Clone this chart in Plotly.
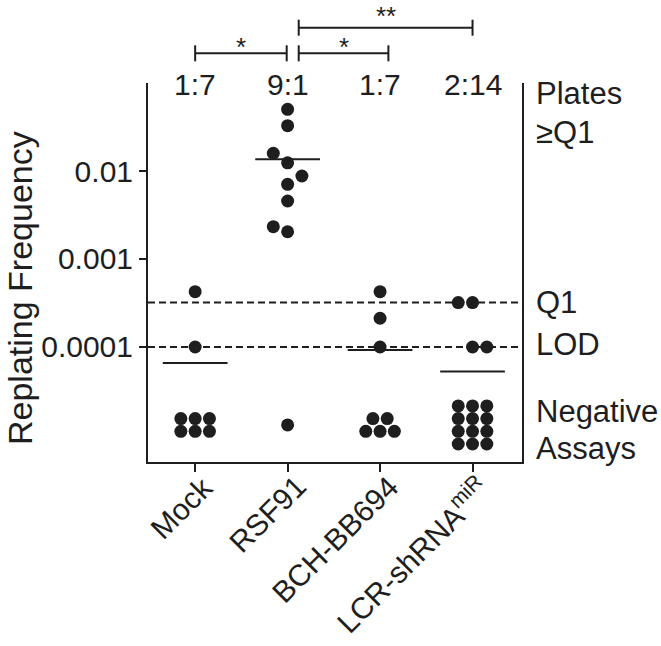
import math
import plotly.graph_objects as go

# ---------------- data ----------------
categories = ["Mock", "RSF91", "BCH-BB694", "LCR-shRNA"]
tick_labels = ["Mock", "RSF91", "BCH-BB694", "LCR-shRNA<sup>miR</sup>"]
ratio_labels = ["1:7", "9:1", "1:7", "2:14"]

mock_values = [4.25e-4, 1.0e-4]
rsf91_values = [0.0502, 0.0327, 0.0124, 0.00706, 0.00456, 0.00204, 0.0159, 0.00877, 0.00233]
bch_values = [4.25e-4, 2.12e-4, 1.0e-4]
lcr_values = [3.2e-4, 3.2e-4, 1.0e-4, 1.0e-4]
negative_counts = [6, 1, 5, 12]

q1_level = 3.2e-4
lod_level = 1.0e-4
negative_level = 1.3e-5  # plotting level for negative assays

comparisons = [(0, 1, "*", 0), (1, 2, "*", 0), (1, 3, "**", 1)]

# ---------------- layout constants ----------------
W, H = 661, 646
ML, MR, MT, MB = 148, 139, 83, 184
PW, PH = W - ML - MR, H - MT - MB
XR = [-0.51, 3.535]
YR = [-5.307, -1.0]
PX_X = PW / (XR[1] - XR[0])
PX_Y = PH / (YR[1] - YR[0])
DOT = 13
SLOT = 14.3 / PX_X
ROW = 12.7 / PX_Y
INK = "#1e1e1e"
FONT = "Liberation Sans, Arial, sans-serif"

groups = [mock_values, rsf91_values, bch_values, lcr_values]


def swarm(values):
    """place dots in slots beside the column centre, alternating sides on collision"""
    placed = []
    flips = 0
    offs = []
    for v in values:
        ly = math.log10(v)
        side = -1 if flips % 2 == 0 else 1
        cand = [0, side, -side, 2 * side, -2 * side]
        for c in cand:
            ok = True
            for (pc, pyv) in placed:
                d = math.hypot((c - pc) * SLOT * PX_X, (ly - pyv) * PX_Y)
                if d < DOT - 0.2:
                    ok = False
                    break
            if ok:
                if c != 0:
                    flips += 1
                placed.append((c, ly))
                offs.append(c * SLOT)
                break
    return offs


def py(pix):
    """pixel row (from top of picture) -> paper y"""
    return (MT + PH - pix) / PH


fig = go.Figure()

for i, vals in enumerate(groups):
    offs = swarm(vals)
    xs = [i + o for o in offs]
    fig.add_trace(go.Scatter(x=xs, y=vals, mode="markers",
                             marker=dict(size=DOT, color=INK, line=dict(width=0)),
                             showlegend=False, hoverinfo="y"))
    # negative assays: rows of 3, filled bottom-up, centred on negative level
    n = negative_counts[i]
    nrows = math.ceil(n / 3)
    nx, ny = [], []
    base = math.log10(negative_level) - (nrows - 1) * ROW / 2
    k = 0
    for r in range(nrows):
        cnt = min(3, n - k)
        for c in range(cnt):
            nx.append(i + (c - (cnt - 1) / 2) * SLOT)
            ny.append(10 ** (base + r * ROW))
        k += cnt
    fig.add_trace(go.Scatter(x=nx, y=ny, mode="markers",
                             marker=dict(size=DOT, color=INK, line=dict(width=0)),
                             showlegend=False, hoverinfo="skip"))
    # mean line (negatives counted as zero)
    mean = sum(vals) / (len(vals) + n)
    fig.add_trace(go.Scatter(x=[i - 0.35, i + 0.35], y=[mean, mean], mode="lines",
                             line=dict(color=INK, width=2), showlegend=False,
                             hoverinfo="skip"))

# dashed reference lines (shape coordinates are data values on a log axis)
for lvl in (q1_level, lod_level):
    fig.add_shape(type="line", xref="paper", x0=0, x1=1, yref="y",
                  y0=lvl, y1=lvl,
                  line=dict(color=INK, width=2, dash="7px,4px"))

ann = []
# category labels, rotated, anchored at their tick
for i, t in enumerate(tick_labels):
    ann.append(dict(x=i, xref="x", y=0, yref="paper", text=t, textangle=-45,
                    showarrow=False, xanchor="right", yanchor="top",
                    xshift=27, yshift=-5,
                    font=dict(size=30, color=INK, family=FONT)))

# ratio labels above columns
for i, t in enumerate(ratio_labels):
    ann.append(dict(x=i, xref="x", y=py(85), yref="paper", text=t, showarrow=False,
                    font=dict(size=30, color=INK, family=FONT),
                    xanchor="center", yanchor="middle"))

# right-side labels
rx = (534 - ML) / PW
right = [("Plates", py(93)), ("≥Q1", py(132)), ("Q1", None), ("LOD", None),
         ("Negative", py(411)), ("Assays", py(448))]
for txt, yy in right:
    a = dict(x=rx, xref="paper", text=txt, showarrow=False, xanchor="left",
             yanchor="middle", font=dict(size=31, color=INK, family=FONT))
    if txt == "Q1":
        a.update(y=math.log10(q1_level), yref="y")
    elif txt == "LOD":
        a.update(y=math.log10(lod_level) + 2 / PX_Y, yref="y")
    else:
        a.update(y=yy, yref="paper")
    ann.append(a)

# y axis title
ann.append(dict(x=(20 - ML) / PW, y=py(288), xref="paper", yref="paper",
                text="Replating Frequency", textangle=-90, showarrow=False,
                font=dict(size=34, color=INK, family=FONT),
                xanchor="center", yanchor="middle"))

# significance brackets
levels = [py(53.3), py(27.7)]
star_gap = [11.6, 17.0]
tick_h = 8 / PH
for a, b, star, lev in comparisons:
    x0 = a + (0.12 if a == 1 else 0.0)
    x1 = b + (0.09 if (a == 1 and b == 2) else 0.0) - (0.01 if b == 1 else 0.0)
    yy = levels[lev]
    fig.add_shape(type="line", xref="x", yref="paper", x0=x0, x1=x1, y0=yy, y1=yy,
                  line=dict(color=INK, width=2))
    for xe in (x0, x1):
        fig.add_shape(type="line", xref="x", yref="paper", x0=xe, x1=xe,
                      y0=yy - tick_h, y1=yy + tick_h, line=dict(color=INK, width=2))
    # asterisk glyph sits high in its line box; shift box so glyph centre lands right
    ann.append(dict(x=(x0 + x1) / 2, xref="x", y=yy + (star_gap[lev] - 5) / PH,
                    yref="paper", text=star, showarrow=False, xanchor="center",
                    yanchor="middle", font=dict(size=26, color=INK, family=FONT)))

fig.update_layout(
    width=W, height=H,
    margin=dict(l=ML, r=MR, t=MT, b=MB, autoexpand=False),
    paper_bgcolor="white", plot_bgcolor="white",
    font=dict(family=FONT, color=INK),
    annotations=ann,
    xaxis=dict(range=XR, tickmode="array", tickvals=list(range(4)),
               ticktext=[""] * len(categories), showticklabels=False,
               ticks="outside", ticklen=8, tickwidth=2, tickcolor=INK,
               showline=True, linecolor=INK, linewidth=2, showgrid=False, zeroline=False),
    yaxis=dict(type="log", range=YR, tickmode="array", tickvals=[1e-4, 1e-3, 1e-2],
               ticktext=["0.0001", "0.001", "0.01"], ticks="outside", ticklen=7,
               tickwidth=2, tickcolor=INK, showline=True, mirror=True, linecolor=INK,
               linewidth=2, showgrid=False, zeroline=False,
               tickfont=dict(size=30, color=INK, family=FONT)),
)

fig.write_html("out.html", config={"displayModeBar": False},
               post_script="document.body.style.margin='0px';")
